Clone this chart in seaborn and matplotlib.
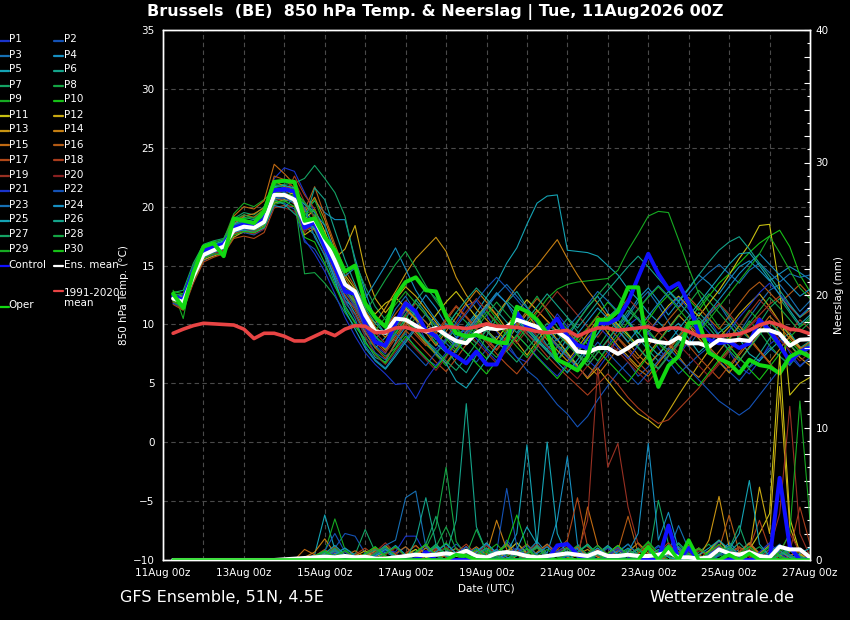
import pandas as pd
import matplotlib
matplotlib.use("Agg")
import matplotlib.pyplot as plt
import matplotlib.dates as mdates
from matplotlib.ticker import MultipleLocator, FuncFormatter, FixedLocator
from matplotlib.lines import Line2D
import seaborn as sns

# ---------------- data ----------------
run_start = "2026-08-11 06:00"
n_steps = 64
title_text = "Brussels  (BE)  850 hPa Temp. & Neerslag | Tue, 11Aug2026 00Z"
source_left = "GFS Ensemble, 51N, 4.5E"
source_right = "Wetterzentrale.de"
tick_days = ["2026-08-11", "2026-08-13", "2026-08-15", "2026-08-17", "2026-08-19",
             "2026-08-21", "2026-08-23", "2026-08-25", "2026-08-27"]

ens_mean_temp = [12.2, 11.9, 14.1, 15.9, 16.3, 16.6, 18.0, 18.3, 18.2, 18.7,
                 21.0, 21.0, 20.6, 18.6, 18.9, 17.2, 15.4, 13.4, 12.8, 10.8,
                 9.4, 9.3, 10.5, 10.4, 9.9, 9.4, 9.7, 9.1, 8.6, 8.4,
                 9.3, 9.7, 9.6, 9.8, 10.4, 10.1, 9.8, 9.3, 9.4, 8.8,
                 7.7, 7.6, 8.0, 8.0, 7.5, 8.0, 8.6, 8.7, 8.5, 8.4,
                 8.9, 8.4, 8.4, 8.1, 8.7, 8.6, 8.7, 8.6, 9.5, 9.5,
                 9.2, 8.2, 8.7, 8.75]
control_temp = [12.4, 12.1, 14.6, 16.3, 16.6, 16.8, 18.2, 18.5, 18.4, 18.9,
                21.4, 21.5, 21.3, 18.2, 18.7, 16.6, 14.9, 12.8, 12.6, 10.1,
                8.5, 8.2, 10.1, 11.8, 11.1, 9.5, 9.0, 7.8, 7.3, 6.7,
                7.7, 6.6, 6.6, 8.4, 11.0, 9.8, 9.8, 9.6, 10.5, 9.0,
                8.25, 8.0, 10.1, 10.1, 10.5, 11.9, 14.0, 16.0, 14.3, 13.0,
                13.5, 11.8, 9.2, 8.7, 8.4, 8.55, 8.0, 8.4, 10.4, 9.5,
                8.25, 6.85, 7.7, 8.05]
oper_temp = [12.6, 11.4, 14.4, 16.6, 16.9, 15.8, 19.0, 18.8, 18.6, 19.6,
             22.1, 22.2, 22.1, 18.8, 19.0, 17.4, 16.3, 14.5, 15.0, 11.8,
             10.6, 9.8, 12.4, 13.6, 14.0, 12.9, 12.8, 10.7, 9.25, 9.0,
             9.1, 8.8, 8.5, 8.4, 11.5, 11.1, 10.4, 9.25, 7.0, 6.6,
             6.1, 7.25, 10.4, 10.4, 11.1, 13.15, 13.15, 7.5, 4.7, 6.5,
             7.3, 10.1, 10.2, 7.6, 7.1, 6.7, 5.85, 7.0, 6.55, 6.4,
             5.85, 7.25, 7.7, 7.25]
clim_temp = [9.25, 9.6, 9.9, 10.1, 10.05, 10.0, 9.95, 9.6, 8.8, 9.25,
             9.25, 9.0, 8.6, 8.6, 9.0, 9.4, 9.05, 9.6, 9.9, 9.85,
             9.3, 9.35, 9.7, 9.75, 9.5, 9.45, 9.6, 9.8, 9.75, 9.65,
             9.8, 10.05, 9.85, 9.8, 9.75, 9.6, 9.4, 9.3, 9.4, 9.5,
             9.0, 9.4, 9.7, 9.7, 9.5, 9.6, 9.7, 9.8, 9.5, 9.7,
             9.7, 9.4, 9.0, 9.05, 9.0, 9.1, 9.2, 9.5, 9.95, 10.2,
             9.95, 9.6, 9.5, 9.2]

p01_temp = [12.0, 11.6, 13.9, 15.8, 16.4, 16.7, 18.3, 18.7, 18.9, 19.6,
            22.4, 23.3, 23.0, 21.2, 19.5, 17.0, 14.6, 12.3, 11.5, 9.6,
            8.2, 7.5, 9.8, 11.2, 10.4, 8.6, 7.9, 8.8, 10.2, 11.6, 12.0, 10.8, 9.4, 8.1, 7.2, 6.8, 8.0, 9.5, 10.9, 9.8,
            8.1, 7.0, 6.2, 7.4, 8.8, 9.9, 10.6, 9.2, 8.0, 6.9, 7.3, 8.6, 9.8, 10.5, 9.1, 7.7, 6.4, 5.8, 6.9, 8.3, 9.0, 7.6, 6.5, 7.2]
p02_temp = [11.8, 11.3, 13.6, 15.4, 15.9, 16.2, 17.6, 17.8, 17.6, 18.1,
            20.4, 20.3, 19.8, 17.0, 16.4, 15.0, 13.2, 11.8, 10.9, 9.0,
            7.6, 7.0, 8.4, 9.2, 8.0, 7.1, 6.5, 7.3, 8.4, 7.6, 6.8, 7.9, 9.0, 8.5, 7.2, 6.1, 5.4, 4.3, 3.2, 2.4,
            1.3, 2.2, 3.6, 4.8, 5.9, 6.8, 5.6, 6.4, 7.5, 6.9, 5.8, 6.6, 7.4, 8.1, 6.9, 6.0, 5.2, 6.3, 7.1, 8.0, 7.3, 6.5, 7.8, 8.4]
p03_temp = [12.3, 12.0, 14.0, 15.7, 16.0, 16.5, 17.8, 18.0, 17.9, 18.5,
            20.6, 20.8, 20.5, 19.0, 18.0, 16.2, 14.0, 12.0, 11.4, 9.8,
            8.8, 9.6, 11.3, 12.4, 11.0, 10.2, 9.1, 8.4, 7.6, 8.8, 10.1, 11.4, 12.6, 11.8, 10.3, 9.2, 8.5, 7.9, 8.8, 7.5,
            6.4, 5.5, 6.8, 8.2, 9.5, 10.7, 11.9, 12.8, 11.6, 10.2, 9.0, 8.1, 9.4, 10.8, 11.7, 10.4, 9.3, 10.6, 11.8, 12.9, 13.4, 12.3, 11.1, 12.0]
p04_temp = [12.1, 11.8, 14.2, 16.0, 16.3, 16.4, 17.9, 18.2, 18.4, 18.9,
            20.8, 20.5, 20.9, 19.6, 20.5, 19.5, 18.9, 18.9, 15.6, 12.8,
            10.4, 9.2, 8.6, 9.8, 11.2, 12.5, 11.4, 10.0, 8.9, 9.7, 10.8, 9.5, 8.4, 7.9, 9.1, 10.3, 9.6, 8.2, 7.4, 8.9,
            10.2, 11.5, 12.4, 11.0, 9.8, 10.9, 12.2, 13.1, 12.0, 10.8, 11.9, 13.0, 14.2, 13.5, 12.6, 13.8, 14.9, 15.4, 14.6, 13.7, 14.3, 14.9, 14.4, 13.8]
p05_temp = [12.4, 12.3, 14.5, 16.2, 16.6, 16.9, 18.2, 18.6, 18.5, 18.9,
            21.2, 21.4, 21.0, 19.8, 18.5, 16.8, 14.2, 12.4, 10.9, 9.3,
            8.0, 8.9, 10.2, 11.6, 10.8, 9.6, 8.4, 7.6, 8.8, 9.9, 11.0, 12.3, 13.5, 15.2, 16.5, 18.5, 20.3, 20.9, 21.0, 16.3,
            16.2, 16.1, 15.8, 15.0, 14.2, 13.0, 12.1, 11.0, 10.2, 9.4, 10.1, 8.8, 7.6, 8.4, 9.3, 10.0, 8.8, 7.5, 6.9, 7.8, 8.6, 9.3, 8.1, 7.4]
p06_temp = [12.5, 12.2, 14.8, 16.5, 16.8, 17.0, 18.6, 19.1, 18.9, 19.5,
            21.5, 21.2, 20.8, 18.4, 17.6, 15.8, 13.5, 11.6, 10.2, 8.6,
            7.2, 6.8, 8.5, 10.4, 12.1, 11.0, 9.3, 8.0, 6.7, 5.9, 7.4, 9.0, 10.5, 11.9, 12.8, 11.5, 10.1, 9.2, 8.3, 7.5,
            6.6, 7.9, 9.2, 10.6, 11.4, 10.2, 8.9, 7.8, 6.9, 7.6, 8.5, 9.8, 11.0, 10.1, 9.0, 8.2, 7.1, 6.4, 7.5, 8.8, 10.0, 9.1, 8.0, 8.6]
p07_temp = [12.7, 12.9, 15.2, 16.8, 17.1, 17.3, 19.0, 19.5, 19.3, 20.0,
            21.8, 21.9, 22.0, 22.4, 23.5, 22.4, 21.2, 19.2, 15.3, 13.2,
            11.5, 10.4, 9.8, 10.9, 12.0, 13.1, 12.2, 11.0, 10.1, 9.2, 8.4, 9.6, 10.8, 12.0, 11.2, 10.1, 9.0, 8.2, 9.4, 10.5,
            9.4, 8.3, 7.6, 8.7, 9.9, 11.2, 10.4, 9.3, 8.5, 7.8, 9.0, 10.3, 11.5, 12.6, 11.8, 10.7, 9.6, 8.8, 10.1, 11.4, 12.2, 11.0, 9.8, 10.6]
p08_temp = [12.6, 12.1, 14.6, 16.4, 16.7, 16.8, 18.4, 18.8, 18.7, 19.2,
            20.2, 20.4, 20.7, 14.3, 14.4, 13.5, 12.4, 11.0, 9.8, 8.8,
            8.1, 7.3, 8.0, 9.4, 10.6, 9.5, 8.4, 9.7, 11.0, 10.2, 9.1, 8.0, 7.2, 8.5, 9.9, 11.2, 12.4, 11.1, 9.8, 8.6,
            7.5, 6.8, 8.0, 9.3, 10.4, 9.2, 8.1, 7.0, 6.3, 7.4, 8.7, 9.9, 8.8, 7.7, 6.9, 7.8, 9.1, 10.3, 9.4, 8.2, 7.3, 6.6, 7.5, 8.2]
p09_temp = [12.9, 10.5, 14.9, 16.6, 17.0, 17.2, 19.4, 20.3, 20.0, 20.6,
            21.4, 21.6, 21.1, 19.2, 20.6, 18.4, 16.0, 13.6, 12.0, 10.4,
            9.0, 8.2, 9.5, 10.8, 9.6, 8.5, 7.4, 6.5, 7.8, 9.0, 10.3, 11.6, 10.5, 9.4, 8.6, 9.8, 11.0, 12.2, 13.0, 13.4,
            13.6, 13.7, 13.8, 13.9, 14.6, 16.3, 17.7, 19.2, 19.6, 19.5, 17.2, 14.8, 12.6, 11.0, 9.8, 8.7, 9.9, 11.2, 10.3, 9.1, 8.0, 8.9, 9.8, 10.4]
p10_temp = [12.8, 12.6, 15.0, 16.7, 16.9, 16.3, 18.8, 19.0, 19.1, 19.8,
            21.6, 21.8, 21.5, 20.2, 19.6, 17.8, 15.4, 13.1, 11.6, 9.9,
            8.6, 7.9, 9.2, 10.5, 9.4, 8.3, 7.5, 8.6, 9.7, 8.9, 8.0, 7.1, 8.2, 9.5, 10.6, 9.6, 8.7, 7.8, 6.9, 7.9,
            8.8, 9.7, 10.8, 11.9, 11.0, 10.1, 9.2, 10.4, 11.6, 12.5, 13.2, 12.1, 11.2, 12.4, 13.5, 14.3, 15.2, 16.1, 16.9, 17.5, 18.0, 16.6, 14.2, 12.8]
p11_temp = [11.9, 11.7, 13.8, 15.6, 16.1, 16.4, 17.7, 18.1, 18.0, 18.4,
            20.7, 20.9, 21.2, 18.9, 19.8, 17.9, 15.8, 14.2, 13.0, 11.5,
            10.9, 11.8, 12.3, 11.4, 10.5, 9.6, 10.8, 11.9, 12.8, 11.7, 10.6, 9.5, 8.7, 9.9, 11.0, 12.1, 11.2, 10.3, 9.4, 8.5,
            7.7, 8.8, 9.9, 10.9, 10.0, 9.1, 8.2, 9.3, 10.5, 11.6, 12.4, 11.5, 10.7, 11.8, 12.9, 14.2, 15.6, 16.8, 18.4, 18.5, 13.0, 4.0, 5.0, 5.5]
p12_temp = [12.0, 11.5, 13.7, 15.5, 15.8, 16.1, 17.4, 17.9, 17.7, 18.2,
            20.3, 20.6, 20.4, 17.6, 18.2, 16.9, 15.6, 16.4, 18.4, 14.5,
            12.2, 11.0, 12.1, 13.2, 12.4, 11.3, 10.2, 9.0, 8.1, 9.4, 10.6, 11.7, 10.8, 9.6, 8.5, 7.4, 8.6, 9.8, 8.7, 7.6,
            6.5, 5.4, 6.3, 5.2, 4.1, 3.2, 2.4, 1.9, 1.2, 2.6, 4.0, 5.3, 6.6, 7.8, 8.9, 9.8, 10.9, 11.8, 12.6, 11.5, 10.2, 9.1, 8.0, 7.2]
p13_temp = [12.2, 11.8, 14.1, 15.9, 16.2, 16.5, 18.1, 18.4, 18.1, 18.8,
            21.1, 21.0, 20.2, 18.2, 19.3, 17.5, 15.0, 12.9, 12.0, 11.0,
            10.1, 11.4, 12.8, 14.3, 15.6, 16.5, 17.4, 16.2, 14.0, 12.5, 11.3, 10.4, 9.5, 8.6, 9.8, 10.9, 9.8, 8.7, 7.8, 6.9,
            8.0, 9.2, 10.4, 9.3, 8.2, 7.3, 6.4, 7.5, 8.6, 9.7, 10.8, 9.9, 8.8, 7.9, 6.8, 5.9, 6.9, 8.1, 9.2, 10.3, 9.4, 8.3, 7.2, 6.5]
p14_temp = [12.3, 12.4, 14.3, 16.0, 16.4, 16.8, 18.5, 19.2, 19.4, 19.9,
            22.2, 21.7, 21.4, 19.5, 20.8, 18.9, 16.5, 14.0, 12.6, 11.2,
            9.8, 8.9, 10.1, 11.3, 10.4, 9.3, 8.2, 9.4, 10.6, 11.8, 12.9, 11.9, 10.8, 12.0, 13.2, 14.1, 15.0, 16.1, 17.2, 15.6,
            14.2, 12.9, 11.8, 10.7, 9.6, 8.5, 7.4, 6.6, 7.5, 8.4, 7.3, 6.2, 5.5, 6.6, 7.7, 8.8, 9.9, 8.9, 7.8, 6.8, 7.9, 9.0, 8.1, 7.3]
p15_temp = [12.1, 11.4, 14.0, 15.8, 16.5, 17.0, 19.2, 20.0, 19.8, 20.5,
            23.6, 22.8, 21.9, 18.4, 18.0, 16.5, 14.8, 13.0, 11.8, 10.0,
            8.7, 7.8, 9.0, 10.2, 9.3, 8.4, 7.5, 6.7, 7.9, 9.1, 10.3, 9.5, 8.6, 7.7, 8.9, 10.1, 11.2, 10.3, 9.4, 8.4,
            7.4, 6.5, 5.7, 6.8, 8.0, 7.1, 6.2, 5.6, 6.7, 7.8, 8.9, 10.0, 9.1, 8.1, 7.2, 6.3, 7.4, 8.5, 9.6, 10.7, 9.8, 8.8, 7.9, 8.5]
p16_temp = [12.0, 11.6, 14.2, 16.1, 16.6, 16.9, 18.7, 19.3, 19.1, 19.7,
            22.6, 22.3, 21.6, 19.7, 21.7, 19.2, 16.8, 14.6, 13.2, 11.8,
            10.6, 9.7, 10.9, 12.0, 11.1, 10.2, 9.2, 10.3, 11.5, 10.6, 9.6, 8.7, 7.8, 8.9, 10.0, 11.1, 12.2, 11.3, 10.3, 9.4,
            8.5, 9.6, 10.7, 9.8, 8.9, 8.0, 7.1, 8.2, 9.3, 10.4, 11.4, 12.3, 11.4, 10.5, 9.6, 10.7, 11.8, 12.9, 13.6, 12.7, 11.8, 12.6, 13.4, 12.5]
p17_temp = [11.7, 11.2, 13.5, 15.3, 15.7, 16.0, 17.3, 17.5, 17.3, 17.8,
            19.9, 20.1, 20.0, 18.0, 18.4, 16.4, 14.4, 12.5, 11.2, 9.4,
            8.0, 7.1, 8.3, 9.5, 8.6, 7.7, 6.8, 6.0, 7.1, 8.3, 9.4, 8.5, 7.5, 6.6, 5.8, 6.9, 8.1, 9.2, 8.2, 7.3,
            6.4, 5.5, 6.6, 7.7, 8.8, 7.8, 6.8, 5.9, 6.9, 8.0, 9.1, 8.2, 7.2, 6.3, 5.4, 6.5, 7.6, 8.7, 7.7, 6.7, 5.8, 6.9, 7.9, 7.1]
p18_temp = [11.9, 11.3, 13.8, 15.6, 16.0, 16.3, 17.7, 18.0, 17.9, 18.3,
            20.5, 20.7, 22.6, 21.0, 19.8, 17.6, 15.2, 12.8, 11.5, 9.9,
            8.5, 7.6, 8.8, 10.0, 9.1, 8.2, 9.3, 10.5, 11.6, 10.7, 9.7, 8.8, 7.9, 9.0, 10.1, 9.2, 8.3, 7.3, 6.4, 5.6,
            4.8, 4.0, 4.9, 5.8, 4.9, 3.8, 2.9, 2.2, 1.6, 1.9, 2.8, 3.7, 4.6, 5.7, 6.8, 7.9, 8.9, 9.9, 10.8, 11.7, 12.4, 11.5, 10.6, 11.2]
p19_temp = [12.2, 11.9, 14.3, 16.1, 16.5, 16.8, 18.2, 18.5, 18.4, 18.9,
            21.0, 21.4, 22.2, 20.4, 19.0, 17.3, 15.5, 13.3, 12.2, 10.6,
            9.3, 8.4, 9.6, 10.7, 11.8, 10.8, 9.8, 8.9, 10.0, 11.1, 12.2, 11.2, 10.2, 9.3, 8.4, 9.5, 10.6, 11.7, 12.8, 11.8,
            10.8, 9.8, 8.9, 10.0, 11.1, 12.2, 11.3, 10.3, 9.4, 8.5, 7.6, 8.7, 9.8, 10.9, 11.8, 10.9, 9.9, 11.0, 12.1, 11.2, 10.2, 9.3, 10.4, 9.6]
p20_temp = [12.0, 11.5, 13.9, 15.6, 16.0, 16.2, 17.6, 17.9, 17.7, 18.1,
            20.0, 19.9, 19.6, 17.8, 18.7, 16.0, 13.9, 11.9, 10.8, 9.0,
            7.4, 6.6, 7.7, 8.8, 7.9, 7.0, 6.1, 7.2, 8.4, 9.5, 8.5, 7.6, 6.7, 7.8, 8.9, 10.0, 9.0, 8.1, 7.1, 6.2,
            5.4, 6.5, 7.6, 8.6, 7.7, 6.8, 5.9, 5.1, 6.2, 7.3, 8.3, 7.4, 6.5, 5.6, 6.6, 7.7, 8.8, 9.8, 10.6, 9.7, 8.7, 7.8, 6.9, 7.6]
p21_temp = [12.3, 12.0, 14.4, 16.2, 16.5, 16.7, 18.1, 18.4, 18.3, 18.8,
            21.2, 21.3, 20.4, 17.2, 16.0, 14.5, 12.6, 10.6, 9.0, 7.6,
            6.6, 5.8, 4.9, 5.0, 3.7, 5.3, 6.5, 7.6, 8.7, 9.8, 8.8, 7.8, 6.9, 8.0, 9.1, 8.2, 7.3, 6.4, 5.6, 6.7,
            7.8, 8.9, 9.9, 9.0, 8.0, 7.1, 8.2, 9.3, 10.4, 11.4, 12.3, 11.3, 10.3, 9.3, 8.4, 9.5, 10.6, 11.6, 12.7, 13.5, 12.6, 11.6, 10.7, 11.5]
p22_temp = [11.8, 11.5, 13.9, 15.7, 16.1, 16.4, 17.8, 18.1, 18.0, 18.5,
            20.8, 20.7, 20.3, 18.5, 18.3, 16.7, 14.7, 12.7, 11.6, 10.0,
            8.9, 8.0, 9.2, 8.3, 7.4, 6.5, 7.6, 8.7, 9.8, 10.9, 12.0, 13.1, 14.0, 13.1, 12.1, 11.1, 10.1, 9.1, 8.1, 7.2,
            6.3, 7.4, 8.5, 7.6, 6.7, 5.8, 4.9, 5.9, 6.9, 8.0, 7.1, 6.2, 5.3, 4.4, 3.5, 2.9, 2.3, 2.9, 4.0, 5.1, 6.2, 7.3, 6.4, 7.2]
p23_temp = [12.5, 12.2, 14.6, 16.3, 16.7, 17.0, 18.4, 18.7, 18.5, 19.1,
            21.3, 21.5, 21.2, 19.9, 17.4, 15.9, 14.0, 12.1, 10.5, 8.2,
            7.0, 6.3, 7.5, 8.7, 9.8, 10.9, 10.0, 9.0, 8.1, 9.2, 10.3, 11.4, 12.5, 13.4, 12.4, 11.4, 10.4, 9.5, 8.6, 9.7,
            10.7, 11.7, 12.8, 12.0, 11.1, 10.2, 11.3, 12.4, 13.3, 12.4, 11.5, 12.6, 13.6, 14.4, 15.1, 14.3, 13.5, 14.6, 15.2, 14.4, 13.6, 14.3, 14.0, 14.2]
p24_temp = [12.4, 12.1, 14.4, 16.1, 16.4, 16.5, 17.9, 18.0, 17.8, 18.2,
            20.1, 19.9, 20.8, 20.2, 19.5, 18.4, 16.2, 14.1, 14.8, 12.2,
            13.6, 15.0, 16.5, 14.7, 12.9, 11.6, 10.4, 9.3, 8.3, 9.4, 10.5, 11.6, 12.7, 11.8, 10.8, 9.8, 8.8, 7.9, 7.0, 8.1,
            9.2, 10.3, 11.4, 10.5, 9.5, 8.5, 9.6, 10.7, 11.8, 12.8, 11.9, 10.9, 9.9, 11.0, 12.1, 13.2, 14.3, 15.2, 16.0, 15.1, 14.2, 13.3, 12.4, 13.0]
p25_temp = [12.6, 12.4, 14.7, 16.4, 16.8, 17.1, 18.5, 18.9, 18.7, 19.3,
            21.7, 21.8, 21.6, 19.0, 18.1, 16.3, 13.8, 11.2, 9.6, 8.0,
            6.9, 6.2, 7.3, 8.5, 9.6, 8.6, 7.6, 6.7, 5.2, 4.6, 5.8, 7.0, 8.2, 9.3, 10.4, 9.5, 8.6, 7.7, 6.8, 5.9,
            7.0, 8.1, 9.2, 10.3, 11.3, 10.3, 9.3, 8.3, 7.4, 8.5, 9.6, 10.7, 11.8, 12.9, 14.0, 15.1, 16.0, 16.1, 15.0, 13.8, 12.5, 11.2, 10.0, 10.8]
p26_temp = [12.3, 12.0, 14.3, 16.0, 16.3, 16.6, 18.0, 18.3, 18.2, 18.6,
            20.6, 20.2, 19.4, 18.7, 21.6, 20.6, 18.0, 15.5, 13.4, 11.4,
            10.1, 9.2, 10.4, 11.6, 10.7, 9.7, 8.7, 9.8, 11.0, 12.1, 13.1, 12.2, 11.2, 10.2, 9.3, 10.4, 11.5, 12.6, 11.6, 10.6,
            9.7, 10.8, 11.9, 12.9, 13.9, 14.9, 15.8, 14.9, 13.9, 12.9, 12.0, 13.1, 14.2, 15.3, 16.3, 17.0, 17.45, 16.4, 15.2, 14.1, 12.9, 11.7, 10.6, 11.4]
p27_temp = [12.1, 11.7, 14.0, 15.8, 16.2, 16.5, 17.9, 18.2, 18.0, 18.5,
            20.9, 21.0, 20.6, 18.6, 18.8, 17.0, 15.1, 13.0, 11.9, 10.3,
            9.0, 8.1, 9.3, 10.5, 9.6, 8.7, 7.8, 6.9, 6.1, 7.2, 8.4, 9.5, 8.6, 7.7, 6.8, 7.9, 9.0, 10.1, 9.2, 8.3,
            7.4, 6.5, 7.6, 8.7, 9.8, 8.9, 8.0, 7.1, 6.2, 7.3, 8.4, 9.5, 10.6, 9.7, 8.7, 7.8, 6.9, 8.0, 9.1, 10.2, 9.3, 8.3, 7.4, 8.0]
p28_temp = [12.6, 12.5, 14.9, 16.6, 16.9, 17.2, 18.9, 19.3, 19.0, 19.6,
            21.9, 21.6, 21.3, 20.4, 19.2, 17.5, 15.3, 13.1, 12.3, 11.0,
            12.4, 13.8, 15.1, 16.2, 14.8, 13.3, 12.0, 10.8, 9.7, 8.6, 9.7, 10.8, 11.9, 10.9, 9.9, 8.9, 7.9, 7.0, 8.1, 9.2,
            10.3, 11.4, 12.5, 13.5, 12.5, 11.5, 10.5, 9.5, 8.5, 9.6, 10.7, 11.8, 12.9, 12.0, 11.0, 10.0, 9.0, 10.1, 11.2, 12.3, 11.4, 10.4, 9.4, 10.2]
p29_temp = [12.2, 11.8, 14.2, 16.0, 16.4, 16.8, 18.3, 18.6, 18.4, 19.0,
            21.2, 21.1, 20.9, 19.4, 19.7, 17.6, 15.8, 13.7, 12.4, 10.7,
            9.5, 10.6, 11.7, 12.8, 11.8, 10.8, 9.8, 8.8, 7.8, 8.9, 10.0, 11.1, 10.1, 9.1, 8.1, 7.2, 8.3, 9.4, 10.5, 9.6,
            8.7, 7.8, 6.9, 8.0, 9.1, 10.2, 11.3, 12.3, 13.2, 12.3, 11.3, 10.3, 9.3, 10.4, 11.5, 12.6, 13.7, 14.8, 16.0, 17.5, 16.1, 14.6, 13.1, 12.2]
p30_temp = [12.0, 11.4, 13.8, 15.6, 16.0, 15.9, 17.6, 17.9, 17.8, 18.3,
            20.4, 20.5, 20.0, 17.4, 17.0, 15.2, 13.3, 11.4, 10.1, 8.4,
            7.5, 6.7, 7.9, 9.0, 8.1, 7.2, 6.3, 7.4, 8.5, 7.6, 6.7, 5.8, 6.9, 8.0, 9.1, 8.2, 7.2, 6.3, 5.4, 6.5,
            7.6, 8.7, 7.8, 6.9, 6.0, 5.1, 6.2, 7.3, 8.4, 7.5, 6.5, 5.6, 4.8, 5.9, 7.0, 8.1, 7.2, 6.2, 5.3, 6.4, 7.5, 8.6, 7.7, 8.3]

# 6-hourly precipitation (mm)
ens_mean_rain = [0, 0, 0, 0, 0, 0, 0, 0, 0, 0, 0,
                 0.05, 0.1, 0.15, 0.2, 0.25, 0.2, 0.3, 0.2, 0.25, 0.1,
                 0.1, 0.2, 0.3, 0.4, 0.35, 0.4, 0.5, 0.4, 0.7, 0.3,
                 0.2, 0.5, 0.6, 0.5, 0.3, 0.2, 0.3, 0.4, 0.5, 0.4,
                 0.3, 0.6, 0.3, 0.3, 0.4, 0.3, 0.3, 0.4, 0.6, 0.2,
                 0.2, 0.1, 0.2, 0.8, 0.5, 0.4, 0.6, 0.3, 0.2, 1.0,
                 0.8, 0.8, 0.2]
control_rain = [0, 0, 0, 0, 0, 0, 0, 0, 0, 0, 0, 0, 0, 0, 0, 0, 0, 0, 0, 0, 0, 0, 0, 0, 0,
                0.6, 0, 0, 0, 0, 0, 0, 0, 0, 0, 0, 0, 0,
                1.1, 1.2, 0.4, 0, 0, 0, 0, 0, 0, 0, 0,
                2.6, 0, 0.9, 0, 0, 0, 0, 0, 0, 0, 0, 6.2, 1.0, 0, 0]
oper_rain = [0, 0, 0, 0, 0, 0, 0, 0, 0, 0, 0, 0, 0, 0, 0, 0, 0, 0, 0, 0, 0, 0, 0, 0, 0, 0, 0, 0,
             0.4, 0.3, 0, 0, 0, 0, 0, 0, 0, 0, 0, 0, 0, 0, 0, 0, 0, 0, 0,
             1.0, 0, 1.0, 0, 1.5, 0, 0, 0, 0.4, 0, 0.5, 0, 0, 0, 0, 0, 0]

p01_rain = [0, 0, 0, 0, 0, 0, 0, 0, 0, 0, 0,
            0, 0, 0, 0.2, 0.5, 0.3, 0, 0, 0.4, 0.8, 0.3, 0, 0, 0.2, 0.6, 1.1, 0.4, 0, 0, 0.3,
            0.8, 0.2, 0, 0, 0, 0.5, 1.2, 0.6, 0, 0, 0, 0.3, 0.9, 0.2, 0, 0, 0.4, 1.0, 0.5, 0,
            0, 0, 0.6, 1.4, 0.7, 0, 0, 0.3, 0.8, 0.4, 0, 0, 0]
p02_rain = [0, 0, 0, 0, 0, 0, 0, 0, 0, 0, 0,
            0, 0, 0, 0.3, 0, 0.9, 2.0, 1.8, 0.5, 0, 0, 0.4, 1.0, 0.3, 0, 0, 0.5, 1.2, 0.6, 0,
            0, 0.2, 1.5, 0.6, 0, 0, 0.3, 0.8, 0.2, 0, 0.5, 1.1, 0.4, 0, 0, 0.2, 0.9, 0.3, 0, 0,
            0, 0.4, 0.7, 0, 0, 0.6, 1.3, 0.5, 0, 0, 0.3, 0.8, 0]
p03_rain = [0, 0, 0, 0, 0, 0, 0, 0, 0, 0, 0,
            0, 0, 0, 0, 0.4, 0.2, 0, 0.5, 0, 0.75, 0.2, 0, 0.3, 0.6, 0, 0, 0.4, 0.9, 0.3, 0,
            0, 0.5, 1.3, 0.4, 0, 0, 0.2, 0.6, 0, 0, 0, 0.4, 1.0, 0.3, 0, 0, 0.5, 1.1, 0.6, 2.6,
            0.8, 0, 0, 0.3, 0.7, 0, 0, 0.4, 1.2, 0.3, 0, 0, 0.2]
p04_rain = [0, 0, 0, 0, 0, 0, 0, 0, 0, 0, 0,
            0, 0, 0, 0, 0.3, 0.8, 0.3, 0, 0, 0.2, 0.6, 0.2, 0, 0, 0.4, 1.0, 0.3, 0, 0, 0.5,
            0.9, 0.2, 0, 0, 0.6, 1.4, 0.5, 3.0, 7.8, 1.2, 0.3, 0, 0, 0.4, 0.9, 0.2, 0, 0, 0.3, 0.8,
            0.2, 0, 0, 0.5, 1.3, 0.6, 0, 0, 0.2, 0.7, 0.3, 0, 0]
p05_rain = [0, 0, 0, 0, 0, 0, 0, 0, 0, 0, 0,
            0, 0, 0, 0.4, 3.4, 0.8, 0, 0, 0.3, 0.6, 0.2, 0, 0, 0.5, 1.1, 0.4, 0, 0, 0.3, 0.7,
            0.2, 0, 0.5, 2.0, 8.7, 1.0, 0, 0, 0.4, 0.9, 0.3, 0, 0, 0.6, 1.2, 0.4, 0, 0, 0.5, 1.0,
            0.3, 0, 0, 0.4, 0.9, 0.2, 0, 0, 0.6, 1.1, 0.4, 0, 0]
p06_rain = [0, 0, 0, 0, 0, 0, 0, 0, 0, 0, 0,
            0, 0, 0, 0, 0.2, 0.6, 0.2, 0, 0, 0.4, 0.9, 0.3, 0, 0, 0.5, 1.2, 0.4, 3.0, 11.8, 2.5,
            0.6, 0, 0, 0.3, 0.8, 0.2, 0, 0, 0.5, 1.0, 0.4, 0, 0, 0.3, 0.7, 0.2, 0, 0, 0.6, 1.3,
            0.5, 0, 0, 0.4, 0.9, 0.3, 0, 0, 0.2, 0.6, 0.2, 0, 0]
p07_rain = [0, 0, 0, 0, 0, 0, 0, 0, 0, 0, 0,
            0, 0, 0, 0, 0, 0.5, 0.9, 0.4, 2.3, 0.6, 0, 0, 0.3, 0.8, 0.2, 0, 0, 0.4, 1.0, 0.3,
            0, 0, 0.6, 1.3, 0.5, 0, 0, 0.3, 0.7, 0.2, 0, 0, 0.4, 0.9, 0.3, 0, 0, 4.5, 1.2, 0.3,
            0, 0, 0.5, 1.1, 0.4, 0, 0, 0.3, 0.8, 0.2, 0, 0.4, 0]
p08_rain = [0, 0, 0, 0, 0, 0, 0, 0, 0, 0, 0,
            0, 0, 0, 0.3, 0.7, 0.2, 0, 0, 0.5, 1.0, 0.3, 0, 0, 0.4, 0.9, 2.5, 7.0, 1.4, 0.3, 0,
            0, 0.5, 1.1, 0.4, 0, 0, 0.3, 0.8, 0.2, 0, 0, 0.4, 1.0, 0.5, 0, 0, 0.2, 0.7, 0.3, 0,
            0, 0.6, 1.2, 0.4, 0, 0, 0.5, 1.0, 0.3, 0, 0, 0.3, 0.6]
p09_rain = [0, 0, 0, 0, 0, 0, 0, 0, 0, 0, 0,
            0, 0, 0, 0, 0.6, 3.1, 0.8, 0, 0, 0.4, 0.9, 0.3, 0, 0, 0.5, 1.1, 0.4, 0, 0, 0.3,
            0.7, 0.2, 0, 0, 0.4, 0.9, 0.3, 0, 0, 0.5, 1.2, 0.4, 0, 0, 0.3, 0.8, 0.2, 0, 0, 0.6,
            1.1, 0.3, 0, 0, 0.4, 1.0, 0.5, 0, 0, 0.3, 0.7, 0.2, 0]
p10_rain = [0, 0, 0, 0, 0, 0, 0, 0, 0, 0, 0,
            0, 0, 0, 0, 0, 0.3, 0.7, 0.2, 0, 0, 0.4, 1.0, 0.3, 0, 0, 0.6, 1.3, 0.5, 0, 0,
            0.3, 0.8, 0.2, 0, 0, 0.5, 1.1, 0.4, 0, 0, 0.4, 0.9, 0.3, 0, 0, 0.6, 1.4, 0.5, 0, 0,
            0.3, 0.8, 0.2, 0, 0, 0.5, 1.0, 0.4, 0, 0.3, 0.7, 0.2, 0]
p11_rain = [0, 0, 0, 0, 0, 0, 0, 0, 0, 0, 0,
            0, 0, 0, 0, 0.3, 0.6, 0, 0, 0.2, 0.5, 0, 0, 0.4, 0.8, 0.2, 0, 0, 0.5, 1.0, 0.3,
            0, 0, 0.3, 0.9, 0.4, 0, 0, 0.6, 1.2, 0.4, 0, 0, 0.5, 1.1, 0.3, 0, 0, 0.4, 0.9, 0.2,
            0, 0, 0.7, 1.5, 0.6, 0, 0.8, 2.0, 3.5, 15.5, 3.2, 0.5, 0]
p12_rain = [0, 0, 0, 0, 0, 0, 0, 0, 0, 0, 0,
            0, 0, 0, 0.2, 0.5, 0, 0, 0.3, 0.7, 0.2, 0, 0, 0.5, 1.1, 0.4, 0, 0, 0.3, 0.8, 0.2,
            0, 0, 0.6, 1.3, 0.5, 0, 0, 0.4, 0.9, 0.3, 0, 0, 0.3, 0.7, 0.2, 0, 0, 0.5, 1.1, 0.4,
            0, 0, 0.4, 1.0, 0.3, 0, 0.6, 5.5, 2.0, 13.1, 2.5, 0.4, 0]
p13_rain = [0, 0, 0, 0, 0, 0, 0, 0, 0, 0, 0,
            0, 0, 0, 0, 0.4, 0.9, 0.3, 0, 0, 0.5, 1.1, 0.4, 0, 0, 0.3, 0.7, 0.2, 0, 0, 0.6,
            1.2, 0.4, 0, 0, 0.5, 1.0, 0.3, 0, 0, 0.4, 0.8, 0.2, 0, 0, 0.6, 1.3, 0.5, 0, 0, 0.3,
            0.7, 0.2, 1.5, 4.8, 1.0, 0, 0, 0.5, 1.1, 0.4, 0, 0, 0.3]
p14_rain = [0, 0, 0, 0, 0, 0, 0, 0, 0, 0, 0,
            0, 0, 0.2, 0.6, 1.6, 0.5, 0, 0, 0.3, 0.7, 0.2, 0, 0, 0.4, 0.9, 0.3, 0, 0, 0.5, 1.0,
            0.4, 3.0, 0.8, 0, 0, 0.6, 1.2, 0.4, 0, 0, 0.3, 0.8, 0.2, 0, 0, 0.5, 1.1, 0.3, 0, 0,
            0.4, 0.9, 0.3, 0, 0, 0.6, 1.3, 0.5, 0, 0, 0.3, 0.7, 0]
p15_rain = [0, 0, 0, 0, 0, 0, 0, 0, 0, 0, 0,
            0, 0, 0.8, 0.4, 0, 0, 0.3, 0.7, 0.2, 0, 0, 0.5, 1.0, 0.3, 0, 0, 0.4, 0.9, 0.3, 0,
            0, 0.6, 1.2, 0.4, 0, 0, 0.3, 0.8, 0.2, 0, 4.0, 1.1, 0.4, 0, 0, 0.5, 1.0, 0.3, 0, 0,
            0.4, 0.9, 0.2, 0, 0, 0.6, 1.2, 0.4, 0, 0, 0.3, 0.8, 0.2]
p16_rain = [0, 0, 0, 0, 0, 0, 0, 0, 0, 0, 0,
            0, 0, 0, 0.3, 0.8, 0.2, 0, 0, 0.4, 0.9, 0.3, 0, 0, 0.5, 1.1, 0.4, 0, 0, 0.3, 0.7,
            0.2, 0, 0, 0.6, 1.2, 0.4, 0, 0, 0.5, 1.0, 0.3, 0, 0, 0.7, 3.3, 0.5, 0, 0, 0.4, 0.9,
            0.2, 0, 0, 0.8, 3.4, 0.6, 0, 0, 0.3, 0.7, 0.2, 0, 0]
p17_rain = [0, 0, 0, 0, 0, 0, 0, 0, 0, 0, 0,
            0, 0, 0, 0, 0.3, 0.7, 0.2, 0, 0, 0.5, 1.0, 0.3, 0, 0, 0.4, 0.9, 0.2, 0, 0, 0.6,
            1.2, 0.4, 0, 0, 0.5, 1.0, 0.3, 0.8, 1.5, 4.7, 1.0, 0.3, 0, 0, 0.4, 0.9, 0.2, 0, 0, 0.6,
            1.1, 0.4, 0, 0, 0.5, 1.0, 0.3, 0, 0, 0.4, 0.8, 0.2, 0]
p18_rain = [0, 0, 0, 0, 0, 0, 0, 0, 0, 0, 0,
            0, 0, 0, 0.2, 0.5, 0, 0, 0.4, 0.9, 0.3, 0, 0, 0.5, 1.1, 0.3, 0, 0, 0.6, 1.2, 0.4,
            0, 0, 0.3, 0.8, 0.2, 0, 0, 0.5, 1.0, 0.3, 0, 0, 0.4, 0.9, 0.3, 0, 0, 0.6, 1.3, 0.4,
            0, 0, 0.5, 1.1, 0.4, 0, 0.9, 3.0, 0.8, 0, 0.6, 4.0, 1.2]
p19_rain = [0, 0, 0, 0, 0, 0, 0, 0, 0, 0, 0,
            0, 0, 0, 0, 0.4, 1.0, 0.3, 0, 0, 0.6, 1.3, 0.5, 0, 0, 0.3, 0.8, 0.2, 0, 0, 0.5,
            1.1, 0.4, 0, 0, 0.6, 1.2, 0.4, 0, 0, 0.5, 3.0, 14.5, 7.0, 8.8, 4.0, 1.2, 0.3, 0, 0, 0.5,
            1.0, 0.3, 0, 0, 0.4, 0.9, 0.2, 0, 0.8, 3.5, 11.6, 2.0, 0.3]
p20_rain = [0, 0, 0, 0, 0, 0, 0, 0, 0, 0, 0,
            0, 0, 0, 0, 0, 0.3, 0.6, 0.2, 0, 0, 0.4, 0.9, 0.3, 0, 0, 0.5, 1.0, 0.3, 0, 0,
            0.3, 0.7, 0.2, 0, 0, 0.5, 1.1, 0.4, 0, 0, 0.4, 0.8, 0.2, 0, 0, 0.6, 1.2, 0.5, 0, 0,
            0.3, 0.7, 0.2, 0, 0, 0.4, 0.9, 0.3, 0, 0.5, 2.0, 0.6, 0]
p21_rain = [0, 0, 0, 0, 0, 0, 0, 0, 0, 0, 0,
            0, 0, 0, 0, 0.2, 0.6, 0.2, 0, 0, 0.3, 0.7, 0.6, 1.8, 1.8, 0.4, 0, 0, 0.5, 1.0, 0.3,
            0, 0, 0.4, 0.9, 0.3, 0, 0, 0.6, 1.2, 0.4, 0, 0, 0.3, 0.8, 0.2, 0, 0, 0.5, 1.1, 0.3,
            0, 0, 0.4, 1.0, 0.3, 0, 0, 0.6, 1.3, 0.5, 0, 0, 0.3]
p22_rain = [0, 0, 0, 0, 0, 0, 0, 0, 0, 0, 0,
            0, 0, 0, 0.3, 0.7, 2.0, 0.6, 0, 0, 0.4, 0.9, 0.3, 0, 0, 0.5, 1.0, 0.3, 0, 0, 0.6,
            1.2, 0.6, 5.4, 1.0, 0.3, 0, 0, 0.5, 0.9, 0.2, 0, 0, 0.4, 1.0, 0.3, 0, 0, 0.6, 1.1, 0.3,
            0, 0, 0.5, 0.9, 0.2, 0, 0, 0.4, 1.0, 0.3, 0, 0, 0]
p23_rain = [0, 0, 0, 0, 0, 0, 0, 0, 0, 0, 0,
            0, 0, 0, 0, 0.3, 0.8, 0.2, 0, 0, 0.5, 1.1, 1.5, 4.7, 5.2, 1.0, 0.3, 0, 0, 0.4, 0.9,
            0.3, 0, 0, 0.5, 1.1, 0.4, 0, 0, 0.3, 0.8, 0.2, 0, 0, 0.6, 1.2, 0.4, 0, 0, 0.5, 1.0,
            0.3, 0, 0, 0.4, 0.9, 0.2, 0, 0, 0.6, 1.2, 0.4, 0, 0]
p24_rain = [0, 0, 0, 0, 0, 0, 0, 0, 0, 0, 0,
            0, 0, 0, 0, 0, 0.4, 0.9, 0.3, 0, 0, 0.5, 1.1, 0.4, 0, 0, 0.6, 1.2, 0.5, 0, 0,
            0.3, 0.8, 0.2, 0, 0, 0.5, 1.0, 0.3, 0, 0, 0.4, 0.9, 0.3, 0, 0.6, 2.0, 8.8, 1.5, 3.6, 0.8,
            0.2, 0, 0, 0.5, 1.1, 0.4, 0, 0, 0.3, 0.7, 0.2, 0, 0]
p25_rain = [0, 0, 0, 0, 0, 0, 0, 0, 0, 0, 0,
            0, 0, 0, 0, 0.5, 1.1, 0.4, 0, 0, 0.3, 0.8, 0.2, 0, 0, 0.5, 1.0, 0.3, 0, 0, 0.6,
            1.3, 0.5, 0, 0.8, 2.5, 1.2, 8.9, 2.0, 0.3, 0, 0, 0.5, 1.1, 0.4, 0, 0, 0.3, 0.8, 0.2, 0,
            0, 0.4, 0.9, 1.5, 0.8, 2.0, 6.0, 1.2, 0.3, 0, 0, 0.5, 0.9]
p26_rain = [0, 0, 0, 0, 0, 0, 0, 0, 0, 0, 0,
            0, 0, 0, 0, 0.3, 0.7, 0.2, 0, 0, 0.5, 1.0, 0.3, 0, 1.5, 4.7, 1.2, 0.3, 0, 0, 0.4,
            0.9, 0.3, 0, 0, 0.5, 1.1, 0.4, 0, 0, 0.6, 1.2, 0.4, 0, 0, 0.3, 0.8, 0.2, 0, 0, 0.5,
            1.0, 0.3, 0, 0, 0.6, 1.3, 0.5, 0, 0, 0.4, 0.9, 0.3, 0]
p27_rain = [0, 0, 0, 0, 0, 0, 0, 0, 0, 0, 0,
            0, 0, 0, 0.2, 0.6, 0.2, 0, 0, 0.4, 0.8, 0.3, 0, 0, 0.5, 1.2, 3.3, 0.6, 0, 0, 0.4,
            0.9, 0.3, 0, 0, 0.5, 1.0, 0.3, 0, 0, 0.6, 1.1, 0.4, 0, 0, 0.4, 0.9, 0.2, 0, 0, 0.5,
            1.0, 0.3, 0, 0, 0.8, 2.6, 0.5, 0, 0, 0.4, 0.8, 0.2, 0]
p28_rain = [0, 0, 0, 0, 0, 0, 0, 0, 0, 0, 0,
            0, 0, 0, 0, 0.4, 0.9, 0.3, 0, 0, 0.5, 1.0, 0.3, 0, 0, 0.6, 1.0, 2.5, 0.8, 0.4, 2.3,
            0.6, 0, 0, 0.4, 0.9, 0.3, 0, 0, 0.5, 1.1, 0.4, 0, 0, 0.3, 0.8, 0.2, 0, 0, 0.6, 1.2,
            0.4, 0, 0, 0.5, 1.0, 0.3, 0, 0, 0.4, 0.9, 0.3, 0, 0]
p29_rain = [0, 0, 0, 0, 0, 0, 0, 0, 0, 0, 0,
            0, 0, 0, 0, 0, 0.3, 0.7, 0.2, 0, 0, 0.5, 1.0, 0.3, 0, 0, 0.4, 0.9, 0.3, 0, 0,
            0.6, 1.2, 0.4, 0, 0, 0.3, 0.8, 0.2, 0, 0, 0.5, 1.1, 0.4, 0, 0, 0.6, 1.3, 0.5, 0, 0,
            0.4, 0.9, 0.3, 0, 0, 0.5, 1.0, 0.3, 0, 0.6, 2.0, 12.0, 3.0]
p30_rain = [0, 0, 0, 0, 0, 0, 0, 0, 0, 0, 0,
            0, 0, 0, 0.3, 0.7, 0.2, 0, 0, 0.5, 1.0, 0.3, 0, 0, 0.6, 1.2, 0.4, 0, 0, 0.3, 0.8,
            0.2, 0.5, 1.2, 3.4, 0.9, 0, 0, 0.4, 0.9, 0.3, 0, 0, 0.5, 1.1, 0.4, 0, 0, 0.3, 0.8, 0.2,
            0, 0, 0.6, 1.2, 0.5, 0, 0, 0.4, 1.0, 0.3, 0, 0, 0]

member_names = [f"P{k}" for k in range(1, 31)]
member_temps = [p01_temp, p02_temp, p03_temp, p04_temp, p05_temp, p06_temp, p07_temp, p08_temp,
                p09_temp, p10_temp, p11_temp, p12_temp, p13_temp, p14_temp, p15_temp, p16_temp,
                p17_temp, p18_temp, p19_temp, p20_temp, p21_temp, p22_temp, p23_temp, p24_temp,
                p25_temp, p26_temp, p27_temp, p28_temp, p29_temp, p30_temp]
member_rains = [p01_rain, p02_rain, p03_rain, p04_rain, p05_rain, p06_rain, p07_rain, p08_rain,
                p09_rain, p10_rain, p11_rain, p12_rain, p13_rain, p14_rain, p15_rain, p16_rain,
                p17_rain, p18_rain, p19_rain, p20_rain, p21_rain, p22_rain, p23_rain, p24_rain,
                p25_rain, p26_rain, p27_rain, p28_rain, p29_rain, p30_rain]

# ---------------- styles ----------------
base_colors = ["#1a34cc", "#1452b6", "#166fb4", "#168ec0", "#14a3b4", "#14a38a", "#14a264",
               "#14a444", "#16aa22", "#16c016", "#c8c012", "#c8a812", "#c89412", "#c47e12",
               "#c06a12", "#b25a14", "#b04818", "#a83c1c", "#983022", "#882020"]
member_colors = base_colors + base_colors[:10]
palette = dict(zip(member_names, member_colors))
col_control = "#1010ff"
col_oper = "#12d812"
col_mean = "#ffffff"
col_clim = "#e84444"

sns.set_style("dark")
plt.rcParams["font.family"] = ["DejaVu Sans"]

times = pd.date_range(run_start, periods=n_steps, freq="6h")

rows_t, rows_r = [], []
for name, tv, rv in zip(member_names, member_temps, member_rains):
    for t, v in zip(times, tv):
        rows_t.append((t, v, name))
    for t, v in zip(times, rv):
        rows_r.append((t, v, name))
df_t = pd.DataFrame(rows_t, columns=["time", "temp", "member"])
df_r = pd.DataFrame(rows_r, columns=["time", "rain", "member"])

W, H = 850, 620
fig = plt.figure(figsize=(W / 100, H / 100), dpi=100, facecolor="black")
ax = fig.add_axes([163 / W, 60 / H, 647 / W, 530 / H])
ax.set_facecolor("black")

# temperature
sns.lineplot(data=df_t, x="time", y="temp", hue="member", hue_order=member_names,
             palette=palette, lw=0.8, legend=False, estimator=None, errorbar=None, ax=ax)
sns.lineplot(x=times, y=control_temp, color=col_control, lw=2.9, ax=ax)
sns.lineplot(x=times, y=ens_mean_temp, color=col_mean, lw=2.9, ax=ax)
sns.lineplot(x=times, y=oper_temp, color=col_oper, lw=2.9, ax=ax)
sns.lineplot(x=times, y=clim_temp, color=col_clim, lw=2.6, ax=ax)

# precipitation on twin axis
ax2 = ax.twinx()
sns.lineplot(data=df_r, x="time", y="rain", hue="member", hue_order=member_names,
             palette=palette, lw=0.8, legend=False, estimator=None, errorbar=None, ax=ax2)
sns.lineplot(x=times, y=control_rain, color=col_control, lw=2.9, ax=ax2)
sns.lineplot(x=times, y=ens_mean_rain, color=col_mean, lw=2.9, ax=ax2)
sns.lineplot(x=times, y=oper_rain, color=col_oper, lw=2.6, ax=ax2)

x0 = pd.Timestamp(tick_days[0])
x1 = pd.Timestamp(tick_days[-1])
ax.set_xlim(x0, x1)
ax.set_ylim(-10, 35)
ax2.set_ylim(0, 40)

major = [mdates.date2num(pd.Timestamp(d)) for d in tick_days]
minor = [mdates.date2num(d) for d in pd.date_range(x0, x1, freq="1D")]
ax.xaxis.set_major_locator(FixedLocator(major))
ax.xaxis.set_minor_locator(FixedLocator(minor))
ax.xaxis.set_major_formatter(mdates.DateFormatter("%d%b %Hz"))
ax.yaxis.set_major_locator(MultipleLocator(5))

grid_kw = dict(color="#4a4a4a", lw=0.8, ls=(0, (4, 3)))
ax.grid(True, which="both", axis="x", **grid_kw)
ax.grid(True, which="major", axis="y", **grid_kw)
ax.set_axisbelow(True)

ax.tick_params(axis="x", which="both", length=0, pad=6, labelsize=7.5, labelcolor="white")
ax.tick_params(axis="y", which="both", length=0, pad=6, labelsize=7.5, labelcolor="white")

ax2.yaxis.set_major_locator(MultipleLocator(2))
ax2.yaxis.set_minor_locator(MultipleLocator(1))
ax2.yaxis.set_major_formatter(FuncFormatter(lambda v, p: f"{v:.0f}" if abs(v % 10) < 1e-6 else ""))
ax2.tick_params(axis="y", which="major", direction="in", length=4.3, width=0.8,
                color="white", labelcolor="white", labelsize=7.5, pad=4)
ax2.tick_params(axis="y", which="minor", direction="in", length=2.2, width=0.8, color="white")

for a in (ax, ax2):
    for s in a.spines.values():
        s.set_color("white")
        s.set_linewidth(1.0)

ax.set_xlabel("Date (UTC)", color="white", fontsize=7.5, labelpad=4)
ax.set_ylabel("850 hPa Temp. (°C)", color="white", fontsize=7.5, labelpad=3)
ax2.set_ylabel("Neerslag (mm)", color="white", fontsize=7.5, labelpad=4)

# titles / credits
fig.text(435 / W, 1 - 12 / H, title_text, color="white", fontsize=11.5, fontweight="bold",
         ha="center", va="center")
fig.text(120 / W, 1 - 598 / H, source_left, color="white", fontsize=11.5, ha="left", va="center")
fig.text(794 / W, 1 - 598 / H, source_right, color="white", fontsize=11.5, ha="right", va="center")

# legend (drawn manually, two columns)
def leg_entry(xl, xt, y, color, label, lw=1.6, ly=None):
    ly = y + 1 if ly is None else ly
    fig.add_artist(Line2D([xl / W, (xl + 9) / W], [1 - ly / H, 1 - ly / H],
                          transform=fig.transFigure, color=color, lw=lw))
    fig.text(xt / W, 1 - y / H, label, color="white", fontsize=7.5, ha="left", va="center")

for k, (name, c) in enumerate(zip(member_names, member_colors)):
    col, row = k % 2, k // 2
    xl = 0 if col == 0 else 54
    xt = 8.5 if col == 0 else 64
    leg_entry(xl, xt, 39.5 + 15 * row, c, name)
leg_entry(0, 8.5, 265, col_control, "Control")
leg_entry(54, 64, 265, col_mean, "Ens. mean")
leg_entry(54, 64, 293, col_clim, "1991-2020", ly=291)
fig.text(64 / W, 1 - 303 / H, "mean", color="white", fontsize=7.5, ha="left", va="center")
leg_entry(0, 8.5, 305, col_oper, "Oper", ly=307)

fig.savefig("out.png", dpi=100, facecolor="black")
